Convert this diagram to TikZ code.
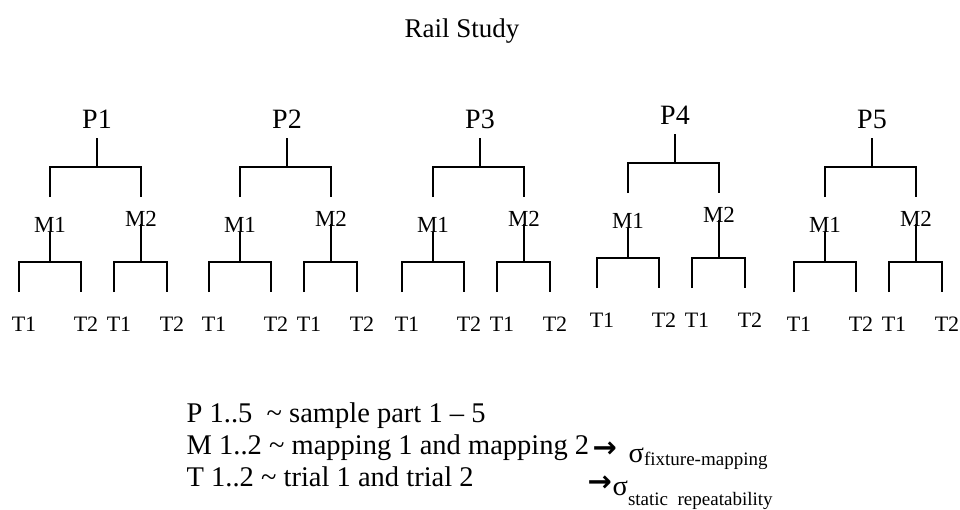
\documentclass[tikz,border=0pt]{standalone}
\usepackage{fontspec}
\setmainfont{Liberation Serif}
\newfontfamily\arrowfont{DejaVu Sans}
\usetikzlibrary{positioning}

\begin{document}
\begin{tikzpicture}[x=1pt,y=-1pt,line width=1.4pt,
        every node/.style={inner sep=0pt,anchor=base},
        title node/.style={font=\fontsize{27}{32}\selectfont},
        part node/.style={font=\fontsize{28}{32}\selectfont},
        map node/.style={font=\fontsize{23}{27}\selectfont},
        trial node/.style={font=\fontsize{22}{26}\selectfont},
        legend node/.style={anchor=base west,font=\fontsize{28.5}{32}\selectfont},
        arrow node/.style={anchor=base west,font=\arrowfont\bfseries\fontsize{29}{32}\selectfont}]
        \useasboundingbox (0,0) rectangle (960,509);
        \node[title node] (title) at (462,37) {Rail Study};
        \foreach \i/\x/\d in {1/97/0,2/287/0,3/480/0,4/675/4,5/872/0} {
          \begin{scope}[xshift=\x pt,yshift=\d pt]
            \node[part node] (p\i) at (0,128) {P\i};
            \node[map node] (m\i-1) at (-47,232) {M1};
            \node[map node] (m\i-2) at (44,226) {M2};
            \node[trial node] (t\i-1-1) at (-73,331) {T1};
            \node[trial node] (t\i-1-2) at (-11,331) {T2};
            \node[trial node] (t\i-2-1) at (22,331) {T1};
            \node[trial node] (t\i-2-2) at (75,331) {T2};
            \coordinate (j\i) at (0,167);
            \coordinate (k\i-1) at (-47,262);
            \coordinate (k\i-2) at (44,262);
            \draw ([yshift=-10pt]p\i.base) -- (j\i);
            \draw ([yshift=35pt]m\i-1.base) |- (j\i) -| ([yshift=29pt]m\i-2.base);
            \draw (m\i-1.base) -- (k\i-1);
            \draw ([yshift=2pt]m\i-2.base) -- (k\i-2);
            \draw ([xshift=-5pt,yshift=39pt]t\i-1-1.base) |- (k\i-1) -| ([xshift=-5pt,yshift=39pt]t\i-1-2.base);
            \draw ([xshift=-5pt,yshift=39pt]t\i-2-1.base) |- (k\i-2) -| ([xshift=-5pt,yshift=39pt]t\i-2-2.base);
          \end{scope}
        }
        % legend
        \node[legend node] (leg1) at (186,422) {P 1..5\ \ \textasciitilde\ sample part 1 – 5};
        \node[legend node] (leg2) at (186,454) {M 1..2 \textasciitilde\ mapping 1 and mapping 2};
        \node[legend node] (leg3) at (186,486) {T 1..2 \textasciitilde\ trial 1 and trial 2};
        \node[arrow node] (arr2) at (592,457) {→};
        \node[arrow node] (arr3) at (587,491) {→};
        \node[legend node] (sig2) at (628,462) {σ\raisebox{-3pt}{\fontsize{19}{22}\selectfont fixture-mapping}};
        \node[legend node] (sig3) at (612,495) {σ\raisebox{-10pt}{\fontsize{19}{22}\selectfont static\ \ repeatability}};
\end{tikzpicture}
\end{document}
